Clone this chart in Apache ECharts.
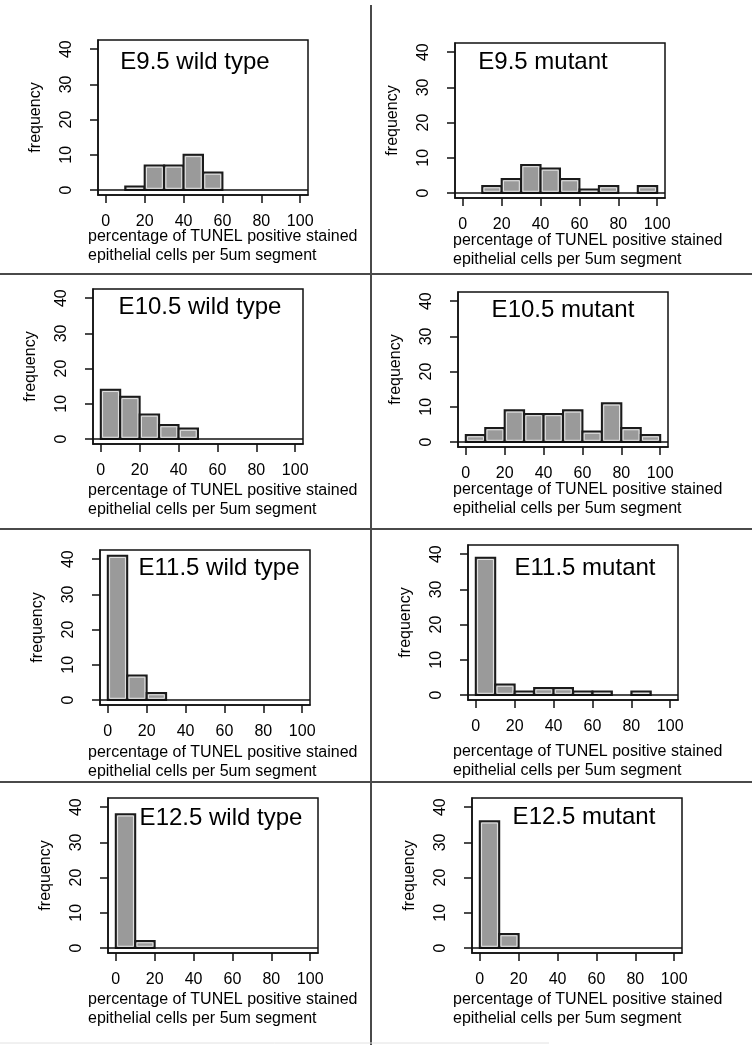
<!DOCTYPE html>
<html>
<head>
<meta charset="utf-8">
<script src="https://cdn.jsdelivr.net/npm/echarts@6/dist/echarts.min.js"></script>
<style>
  html, body { margin: 0; padding: 0; background: #ffffff; }
  #chart { width: 752px; height: 1050px; }
</style>
</head>
<body>
<div id="chart"></div>
<script>
// ---- data ----
const binEdges = [0, 10, 20, 30, 40, 50, 60, 70, 80, 90, 100];
const e95WildType  = [0, 1, 7, 7, 10, 5, 0, 0, 0, 0];
const e95Mutant    = [0, 2, 4, 8, 7, 4, 1, 2, 0, 2];
const e105WildType = [14, 12, 7, 4, 3, 0, 0, 0, 0, 0];
const e105Mutant   = [2, 4, 9, 8, 8, 9, 3, 11, 4, 2];
const e115WildType = [41, 7, 2, 0, 0, 0, 0, 0, 0, 0];
const e115Mutant   = [39, 3, 1, 2, 2, 1, 1, 0, 1, 0];
const e125WildType = [38, 2, 0, 0, 0, 0, 0, 0, 0, 0];
const e125Mutant   = [36, 4, 0, 0, 0, 0, 0, 0, 0, 0];
const panelTitles = ['E9.5 wild type', 'E9.5 mutant', 'E10.5 wild type', 'E10.5 mutant',
                     'E11.5 wild type', 'E11.5 mutant', 'E12.5 wild type', 'E12.5 mutant'];
const panelCounts = [e95WildType, e95Mutant, e105WildType, e105Mutant,
                     e115WildType, e115Mutant, e125WildType, e125Mutant];
const xTickValues = [0, 20, 40, 60, 80, 100];
const yTickValues = [0, 10, 20, 30, 40];
const yAxisName = 'frequency';
const xAxisLabel = 'percentage of TUNEL positive stained\nepithelial cells per 5um segment';

// ---- layout (pixels) ----
const boxLeft  = [98, 455, 93, 458, 100, 468, 108, 472];
const boxTop   = [40, 43, 289, 292, 550, 545, 798, 798];
const boxW = 210, boxH = 155;
const titleX = [195, 543, 200, 563, 219, 585, 221, 584];
const titleY = [62, 62, 307, 310, 568, 568, 818, 817];
const xlabX  = [88, 453, 88, 453, 88, 453, 88, 453];
const xlabY  = [246, 250, 500, 499, 762, 761, 1009, 1009];

const FONT = '"Liberation Sans", Arial, sans-serif';
const INK = '#111111';

function renderBin(params, api) {
  const c = api.value(2);
  if (!(c > 0)) return null;
  const a = api.coord([api.value(0), c]);
  const b = api.coord([api.value(1), 0]);
  const w = b[0] - a[0], h = b[1] - a[1];
  return {
    type: 'group',
    children: [
      { type: 'rect', shape: { x: a[0], y: a[1], width: w, height: h },
        style: { fill: '#9a9a9a', stroke: '#1b1b1b', lineWidth: 2 } },
      { type: 'rect', shape: { x: a[0] + 1.8, y: a[1] + 1.8, width: Math.max(0, w - 3.6), height: Math.max(0, h - 3.6) },
        style: { fill: 'none', stroke: '#e4e4e4', lineWidth: 1 } }
    ]
  };
}

const grids = [], xAxes = [], yAxes = [], series = [], graphics = [];

panelCounts.forEach((counts, i) => {
  grids.push({
    left: boxLeft[i], top: boxTop[i], width: boxW, height: boxH,
    show: true, borderColor: INK, borderWidth: 1.5, backgroundColor: 'transparent',
    containLabel: false, outerBoundsMode: 'none'
  });
  xAxes.push({
    gridIndex: i, type: 'value', min: -4, max: 104,
    axisLine: { show: true, onZero: false, lineStyle: { color: INK, width: 1.5 } },
    axisTick: { show: true, inside: false, length: 8, customValues: xTickValues, lineStyle: { color: INK, width: 1.5 } },
    axisLabel: { show: true, customValues: xTickValues, margin: 19, fontSize: 16, color: '#000', fontFamily: FONT },
    splitLine: { show: false }
  });
  yAxes.push({
    gridIndex: i, type: 'value', min: -1.4, max: 42.6,
    name: yAxisName, nameLocation: 'middle', nameRotate: 90, nameGap: 54,
    nameTextStyle: { fontSize: 16, color: '#000', fontFamily: FONT },
    axisLine: { show: true, onZero: false, lineStyle: { color: INK, width: 1.5 } },
    axisTick: { show: true, inside: false, length: 8, customValues: yTickValues, lineStyle: { color: INK, width: 1.5 } },
    axisLabel: { show: true, customValues: yTickValues, rotate: 90, margin: 23, fontSize: 16, color: '#000', fontFamily: FONT },
    splitLine: { show: false }
  });
  const data = counts.map((c, k) => [binEdges[k], binEdges[k + 1], c]);
  series.push({
    type: 'custom', xAxisIndex: i, yAxisIndex: i,
    renderItem: renderBin, data: data,
    encode: { x: [0, 1], y: 2 },
    markLine: {
      silent: true, symbol: 'none', label: { show: false },
      lineStyle: { color: INK, width: 1.5, type: 'solid' },
      data: [{ yAxis: 0 }]
    }
  });
  graphics.push({
    type: 'text', x: titleX[i], y: titleY[i],
    style: { text: panelTitles[i], fill: '#000', align: 'center', verticalAlign: 'middle',
             font: '24px ' + FONT }
  });
  graphics.push({
    type: 'text', x: xlabX[i], y: xlabY[i],
    style: { text: xAxisLabel, fill: '#000', align: 'left', verticalAlign: 'middle',
             font: '16px ' + FONT, lineHeight: 18.5 }
  });
});

// panel dividers
const divColor = '#4a4a4a';
graphics.push({ type: 'line', shape: { x1: 371, y1: 5, x2: 371, y2: 1045 }, style: { stroke: divColor, lineWidth: 2 } });
[274, 529, 782].forEach(y => {
  graphics.push({ type: 'line', shape: { x1: 0, y1: y, x2: 752, y2: y }, style: { stroke: divColor, lineWidth: 2 } });
});
graphics.push({ type: 'line', shape: { x1: 0, y1: 1043, x2: 549, y2: 1043 }, style: { stroke: '#e2e2e2', lineWidth: 1 } });

const chart = echarts.init(document.getElementById('chart'), null, { renderer: 'canvas' });
chart.setOption({
  animation: false,
  backgroundColor: '#ffffff',
  grid: grids,
  xAxis: xAxes,
  yAxis: yAxes,
  series: series,
  graphic: graphics
});
</script>
</body>
</html>
